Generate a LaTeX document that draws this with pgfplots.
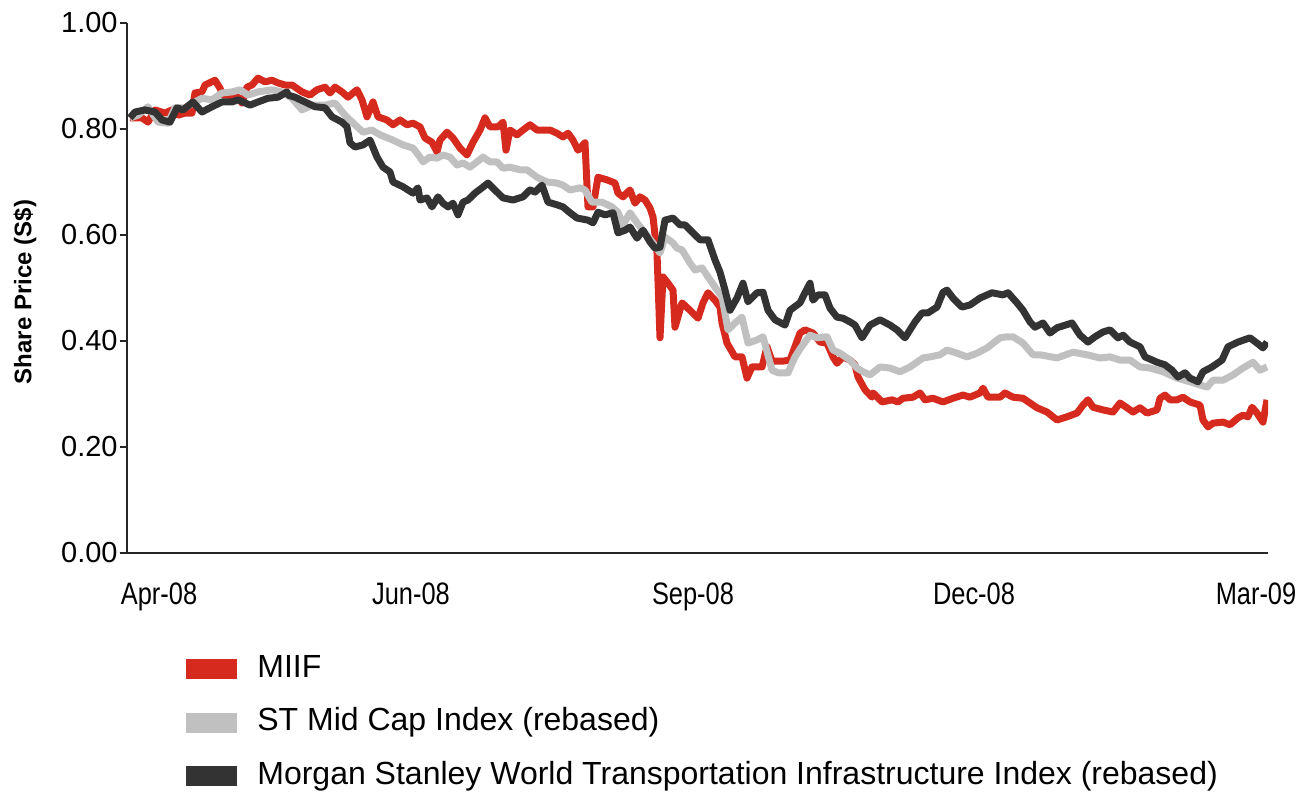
\documentclass[border=0pt]{standalone}
\usepackage{fontspec}
\setmainfont{Liberation Sans}
\newfontfamily\narrowsans[FakeStretch=0.82]{Liberation Sans}
\usepackage{pgfplots}
\pgfplotsset{compat=1.18}
\definecolor{miifred}{RGB}{214,42,30}
\definecolor{midgray}{RGB}{192,192,192}
\definecolor{msdark}{RGB}{51,51,51}

\begin{document}
\begin{tikzpicture}
\path[use as bounding box] (-63.5pt,-122.5pt) rectangle (586.5pt,276.5pt);
\begin{axis}[
  scale only axis,
  width=570.5pt, height=265pt,
  xmin=127, xmax=1268,
  ymin=0, ymax=1,
  axis x line*=bottom, axis y line*=left,
  axis line style={line width=0.8pt, color=black!85},
  xtick={159,411,693,974,1256},
  xticklabels={Apr-08,Jun-08,Sep-08,Dec-08,Mar-09},
  x tick style={draw=none},
  xticklabel style={font=\narrowsans\fontsize{15.5}{18}\selectfont, anchor=north, inner sep=0pt, yshift=-11pt},
  ytick={0,0.2,0.4,0.6,0.8,1},
  y tick style={line width=0.8pt, color=black!85},
  tick align=outside,
  major tick length=3.5pt,
  yticklabel style={font=\fontsize{14.5}{17}\selectfont, inner xsep=1pt,
    /pgf/number format/.cd, fixed, fixed zerofill, precision=2, assume math mode=true},
  ylabel={\bfseries Share Price (S\$)},
  ylabel style={font=\fontsize{12}{14}\selectfont, at={(axis description cs:-0.0894,0.4925)}, anchor=center},
  legend cell align=left,
  legend style={at={(axis description cs:0.0517,-0.1885)}, anchor=north west,
    draw=none, fill=none, inner sep=0pt, row sep=10.7pt,
    font=\fontsize{16}{19}\selectfont,
    nodes={inner sep=0pt, text height=12pt, text depth=4pt},
    /tikz/every odd column/.style={column sep=10pt}},
  legend image code/.code={\fill[#1, draw=none] (0pt,-5pt) rectangle (25.5pt,5pt);},
  line join=round,
]
% MIIF
\addplot[miifred, line width=3.5pt] table {
130 .821
142 .821
148 .813
155 .836
165 .830
172 .836
178 .826
185 .830
192 .830
195 .868
202 .870
205 .883
215 .892
220 .877
223 .864
228 .864
238 .860
242 .849
247 .879
252 .883
258 .896
265 .889
272 .892
278 .887
285 .883
292 .883
302 .870
310 .864
317 .874
325 .879
330 .868
335 .879
342 .870
348 .860
357 .874
362 .855
367 .823
373 .851
378 .823
387 .817
393 .808
400 .817
407 .808
413 .811
420 .804
425 .783
432 .775
437 .757
440 .779
447 .794
453 .783
460 .764
467 .751
473 .775
480 .798
485 .821
490 .804
498 .804
503 .813
506 .760
510 .798
517 .789
523 .798
530 .808
537 .798
550 .798
557 .792
563 .785
568 .792
573 .779
578 .760
585 .774
588 .653
593 .653
598 .709
607 .704
615 .698
618 .679
623 .672
630 .685
635 .660
640 .672
645 .666
650 .651
653 .634
657 .566
660 .406
663 .521
668 .509
673 .496
675 .426
682 .472
690 .458
698 .443
703 .472
708 .491
715 .477
720 .464
722 .434
727 .396
735 .370
742 .370
747 .330
752 .351
762 .351
767 .389
772 .362
783 .362
790 .364
800 .415
805 .421
813 .415
820 .398
827 .396
833 .370
837 .358
843 .370
850 .364
855 .355
858 .332
865 .308
872 .294
873 .302
882 .285
892 .289
898 .285
903 .292
913 .294
920 .302
925 .289
933 .292
943 .285
953 .292
963 .298
970 .294
980 .302
983 .311
988 .294
1000 .294
1005 .302
1013 .294
1023 .292
1030 .283
1037 .274
1047 .266
1057 .251
1067 .257
1077 .264
1083 .279
1088 .289
1093 .275
1103 .270
1113 .266
1120 .283
1127 .274
1133 .266
1140 .274
1147 .264
1157 .270
1160 .292
1165 .298
1170 .289
1177 .289
1183 .294
1190 .285
1200 .279
1203 .251
1208 .238
1213 .245
1223 .247
1230 .242
1238 .255
1243 .260
1248 .257
1252 .275
1257 .264
1263 .247
1267 .289
};
% ST Mid Cap
\addplot[midgray, line width=3.5pt] table {
130 .821
138 .826
148 .842
158 .813
168 .811
175 .840
185 .840
195 .851
202 .858
212 .855
222 .868
232 .870
240 .874
248 .864
258 .870
272 .874
282 .870
292 .858
302 .836
312 .845
325 .845
335 .849
345 .826
355 .808
363 .794
372 .798
380 .789
393 .779
403 .770
413 .764
420 .747
423 .738
430 .747
437 .745
443 .751
450 .747
457 .732
463 .736
470 .728
477 .738
483 .747
490 .738
497 .738
503 .726
510 .728
520 .723
527 .723
537 .709
547 .700
557 .698
563 .694
570 .685
580 .689
585 .685
592 .662
602 .662
612 .653
618 .643
623 .619
630 .642
637 .623
645 .604
653 .585
660 .566
665 .596
673 .585
677 .575
682 .572
690 .547
695 .534
702 .538
708 .521
715 .502
722 .483
728 .421
735 .434
742 .445
748 .396
757 .402
763 .408
772 .345
778 .340
788 .340
795 .370
800 .385
810 .411
817 .406
827 .408
833 .383
840 .377
850 .364
857 .349
863 .342
870 .336
880 .351
890 .349
900 .342
910 .351
923 .368
930 .370
940 .374
947 .383
957 .377
967 .370
977 .377
987 .387
1000 .406
1007 .408
1013 .408
1023 .396
1033 .374
1040 .374
1057 .368
1073 .379
1087 .374
1100 .368
1110 .370
1120 .364
1130 .364
1140 .351
1150 .349
1163 .342
1177 .330
1190 .323
1207 .313
1213 .326
1223 .326
1233 .336
1243 .349
1253 .360
1260 .345
1267 .351
};
% MS World Transportation Infrastructure
\addplot[msdark, line width=3.5pt] table {
130 .821
135 .832
145 .836
155 .832
162 .817
170 .813
177 .840
183 .836
193 .851
202 .832
212 .842
222 .851
232 .851
238 .855
243 .851
250 .845
258 .851
268 .858
278 .860
287 .870
288 .864
295 .860
305 .851
315 .842
325 .840
332 .823
342 .813
347 .804
350 .774
355 .766
363 .770
370 .779
377 .747
383 .728
390 .719
393 .700
403 .691
413 .679
418 .689
420 .666
427 .670
432 .653
438 .672
443 .660
448 .653
453 .660
458 .638
463 .662
468 .666
475 .679
482 .689
488 .698
497 .681
503 .670
513 .666
523 .672
530 .685
535 .681
542 .694
548 .662
557 .657
563 .653
570 .642
577 .632
588 .628
593 .623
598 .643
605 .638
613 .642
618 .604
625 .609
630 .615
637 .594
643 .609
650 .587
655 .575
660 .577
665 .628
673 .632
680 .619
685 .619
693 .604
700 .591
708 .591
715 .553
720 .530
725 .496
730 .458
737 .481
743 .509
748 .474
757 .491
763 .492
768 .458
775 .440
785 .430
790 .458
800 .472
805 .491
810 .509
813 .477
818 .487
825 .487
830 .462
837 .445
843 .443
850 .436
855 .430
862 .406
870 .430
880 .440
890 .430
897 .421
905 .406
915 .436
922 .453
928 .453
937 .464
943 .492
947 .496
953 .481
962 .464
970 .468
980 .481
992 .491
1003 .487
1008 .491
1017 .472
1023 .458
1030 .436
1035 .426
1043 .434
1050 .415
1057 .425
1072 .434
1080 .411
1088 .398
1095 .408
1103 .417
1110 .421
1118 .406
1123 .411
1130 .398
1140 .389
1145 .370
1157 .360
1165 .355
1172 .345
1178 .332
1185 .340
1190 .330
1198 .323
1203 .342
1212 .351
1222 .364
1228 .389
1238 .398
1250 .406
1257 .396
1263 .387
1267 .398
};
\legend{MIIF, ST Mid Cap Index (rebased), Morgan Stanley World Transportation Infrastructure Index (rebased)}
\end{axis}
\end{tikzpicture}
\end{document}
